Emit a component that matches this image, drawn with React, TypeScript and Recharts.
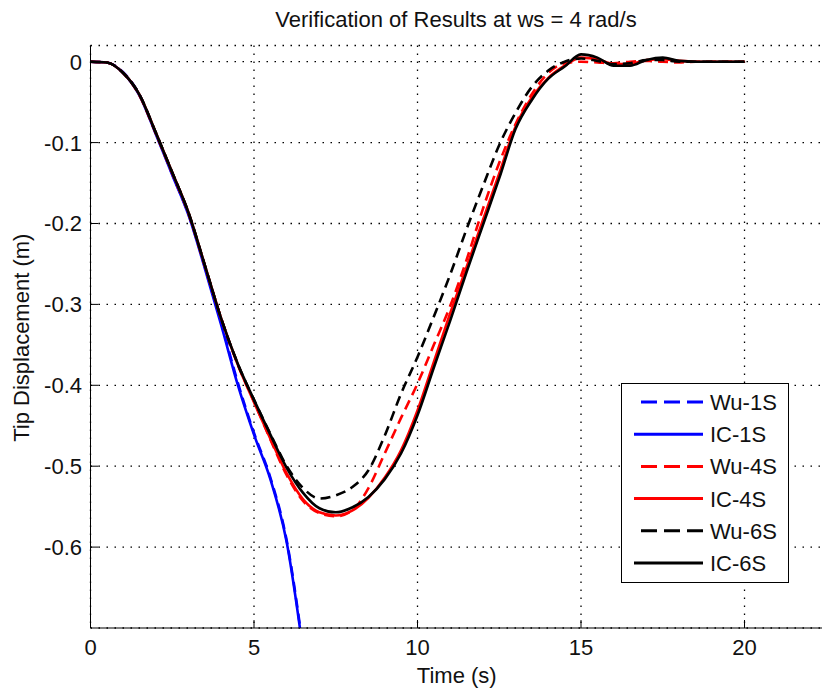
import { LineChart, Line, XAxis, YAxis, CartesianGrid, Legend, Label } from 'recharts';

const time = [0, 0.5, 1, 1.5, 2, 2.5, 3, 3.5, 4, 4.5, 5, 5.5, 6, 6.5, 7, 7.5, 8, 8.5, 9, 9.5, 10,
  10.5, 11, 11.5, 12, 12.5, 13, 13.5, 14, 14.5, 15, 15.5, 16, 16.5, 17, 17.5, 18, 18.5, 19, 19.5, 20];

// single-segment model only runs until it leaves the plot (~6.5 s)
const wu1S = [0, -0.001, -0.013, -0.041, -0.089, -0.139, -0.189, -0.254, -0.323, -0.396, -0.459, -0.514, -0.592, -0.725];
const ic1S = [0, -0.001, -0.014, -0.042, -0.09, -0.14, -0.19, -0.256, -0.326, -0.399, -0.461, -0.516, -0.594, -0.728];

const wu4S = [0, -0.001, -0.014, -0.042, -0.089, -0.138, -0.188, -0.253, -0.318, -0.374, -0.42, -0.467, -0.511, -0.543,
  -0.558, -0.562, -0.555, -0.527, -0.484, -0.44, -0.398, -0.35, -0.302, -0.245, -0.182, -0.125, -0.077, -0.04,
  -0.014, -0.002, 0, -0.001, -0.002, 0, 0.001, 0, -0.001, 0, 0, 0, 0];
const ic4S = [0, -0.001, -0.014, -0.041, -0.088, -0.137, -0.187, -0.252, -0.318, -0.374, -0.421, -0.466, -0.509, -0.541,
  -0.557, -0.561, -0.555, -0.539, -0.514, -0.48, -0.431, -0.371, -0.311, -0.254, -0.196, -0.138, -0.08, -0.044,
  -0.02, -0.005, 0.005, 0.003, -0.003, -0.003, 0.002, 0.003, 0.001, 0, 0, 0, 0];

const wu6S = [0, -0.001, -0.014, -0.041, -0.088, -0.137, -0.187, -0.252, -0.318, -0.373, -0.418, -0.46, -0.5, -0.527,
  -0.54, -0.536, -0.526, -0.505, -0.462, -0.41, -0.365, -0.315, -0.263, -0.207, -0.154, -0.103, -0.063, -0.031,
  -0.011, 0, 0.004, 0.001, -0.003, -0.002, 0.002, 0.002, 0, 0, 0, 0, 0];
const ic6S = [0, -0.001, -0.014, -0.041, -0.088, -0.137, -0.187, -0.252, -0.318, -0.373, -0.418, -0.461, -0.502, -0.533,
  -0.552, -0.557, -0.551, -0.538, -0.516, -0.484, -0.437, -0.378, -0.32, -0.26, -0.202, -0.144, -0.083, -0.047,
  -0.021, -0.006, 0.009, 0.005, -0.005, -0.005, 0.002, 0.005, 0.001, 0, 0, 0, 0];

const xTicks = [0, 5, 10, 15, 20];
const yTicks = [0, -0.1, -0.2, -0.3, -0.4, -0.5, -0.6];

const series = [
  { key: 'wu1', name: 'Wu-1S', color: '#0000ff', dashed: true },
  { key: 'ic1', name: 'IC-1S', color: '#0000ff', dashed: false },
  { key: 'wu4', name: 'Wu-4S', color: '#ff0000', dashed: true },
  { key: 'ic4', name: 'IC-4S', color: '#ff0000', dashed: false },
  { key: 'wu6', name: 'Wu-6S', color: '#000000', dashed: true },
  { key: 'ic6', name: 'IC-6S', color: '#000000', dashed: false },
];

const data = time.map((t, i) => ({
  t,
  wu1: i < wu1S.length ? wu1S[i] : null,
  ic1: i < ic1S.length ? ic1S[i] : null,
  wu4: wu4S[i],
  ic4: ic4S[i],
  wu6: wu6S[i],
  ic6: ic6S[i],
}));

const FONT = '"Liberation Sans", Arial, Helvetica, sans-serif';
const TXT = '#111';

const BottomTick = (props: any) => {
  const { x, y, payload } = props;
  return (
    <g>
      <line x1={x} y1={y} x2={x} y2={y - 8} stroke="#000" strokeWidth={1} />
      <text x={x} y={y + 27} textAnchor="middle" fontFamily={FONT} fontSize={22} fill={TXT}>
        {payload.value}
      </text>
    </g>
  );
};

const TopTick = (props: any) => {
  const { x, y } = props;
  return <line x1={x} y1={y} x2={x} y2={y + 8} stroke="#000" strokeWidth={1} />;
};

const LeftTick = (props: any) => {
  const { x, y, payload } = props;
  const v = payload.value === 0 ? '0' : Number(payload.value).toFixed(1);
  return (
    <g>
      <line x1={x} y1={y} x2={x + 8} y2={y} stroke="#000" strokeWidth={1} />
      <text x={x - 8.5} y={y + 8} textAnchor="end" fontFamily={FONT} fontSize={22} fill={TXT}>
        {v}
      </text>
    </g>
  );
};

const renderLegend = () => (
  <svg width={168} height={200} style={{ display: 'block' }}>
    <rect x={0.5} y={0.5} width={167} height={199} fill="#fff" stroke="#000" strokeWidth={1} />
    {series.map((s, i) => {
      const cy = 19 + i * 32.2;
      return (
        <g key={s.key}>
          <line
            x1={s.dashed ? 20 : 13}
            x2={82}
            y1={cy}
            y2={cy}
            stroke={s.color}
            strokeWidth={3}
            strokeDasharray={s.dashed ? '16 7' : undefined}
          />
          <text x={89} y={cy + 8} fontFamily={FONT} fontSize={22} fill={TXT}>
            {s.name}
          </text>
        </g>
      );
    })}
  </svg>
);

export default function App() {
  return (
    <div style={{ position: 'fixed', left: 0, top: 0, width: 822, height: 690, overflow: 'hidden', background: '#fff' }}>
      <svg width={822} height={40} style={{ position: 'absolute', left: 0, top: 0 }}>
        <text x={456} y={27} textAnchor="middle" fontFamily={FONT} fontSize={22} fill={TXT}>
          Verification of Results at ws = 4 rad/s
        </text>
      </svg>
      <div style={{ position: 'absolute', left: 0, top: 0 }}>
        <LineChart width={823} height={690} data={data} margin={{ top: 45.5, right: 0, bottom: 0, left: 0.5 }}>
          <CartesianGrid stroke="#000" strokeDasharray="1.5 6.5" strokeWidth={1.3} />
          <XAxis
            dataKey="t"
            type="number"
            domain={[0, 22.4]}
            ticks={xTicks}
            interval={0}
            height={62}
            tickSize={0}
            tickMargin={0}
            tick={BottomTick}
            axisLine={{ stroke: '#000', strokeWidth: 1 }}
            tickLine={false}
            allowDataOverflow
          >
            <Label
              content={(p: any) => {
                const vb = p.viewBox;
                return (
                  <text x={vb.x + vb.width / 2} y={683} textAnchor="middle" fontFamily={FONT} fontSize={22} fill={TXT}>
                    Time (s)
                  </text>
                );
              }}
            />
          </XAxis>
          <XAxis
            xAxisId="top"
            orientation="top"
            dataKey="t"
            type="number"
            domain={[0, 22.4]}
            ticks={xTicks}
            interval={0}
            height={0}
            tickSize={0}
            tickMargin={0}
            tick={TopTick}
            axisLine={{ stroke: '#000', strokeWidth: 1 }}
            tickLine={false}
            allowDataOverflow
          />
          <YAxis
            type="number"
            domain={[-0.7, 0.02]}
            ticks={yTicks}
            interval={0}
            width={90}
            tickSize={0}
            tickMargin={0}
            tick={LeftTick}
            axisLine={{ stroke: '#000', strokeWidth: 1 }}
            tickLine={false}
            allowDataOverflow
          >
            <Label
              content={(p: any) => {
                const vb = p.viewBox;
                const cy = vb.y + vb.height / 2 + 1;
                return (
                  <text
                    x={29}
                    y={cy}
                    transform={`rotate(-90, 29, ${cy})`}
                    textAnchor="middle"
                    fontFamily={FONT}
                    fontSize={22}
                    fill={TXT}
                  >
                    Tip Displacement (m)
                  </text>
                );
              }}
            />
          </YAxis>
          <Legend
            layout="vertical"
            align="center"
            verticalAlign="middle"
            content={renderLegend}
            wrapperStyle={{ left: 621, top: 383, width: 168, height: 200 }}
          />
          {series.map((s) => (
            <Line
              key={s.key}
              dataKey={s.key}
              name={s.name}
              type="monotone"
              stroke={s.color}
              strokeWidth={2.6}
              strokeDasharray={s.dashed ? '10 6' : undefined}
              dot={false}
              activeDot={false}
              connectNulls={false}
              isAnimationActive={false}
            />
          ))}
        </LineChart>
      </div>
    </div>
  );
}
